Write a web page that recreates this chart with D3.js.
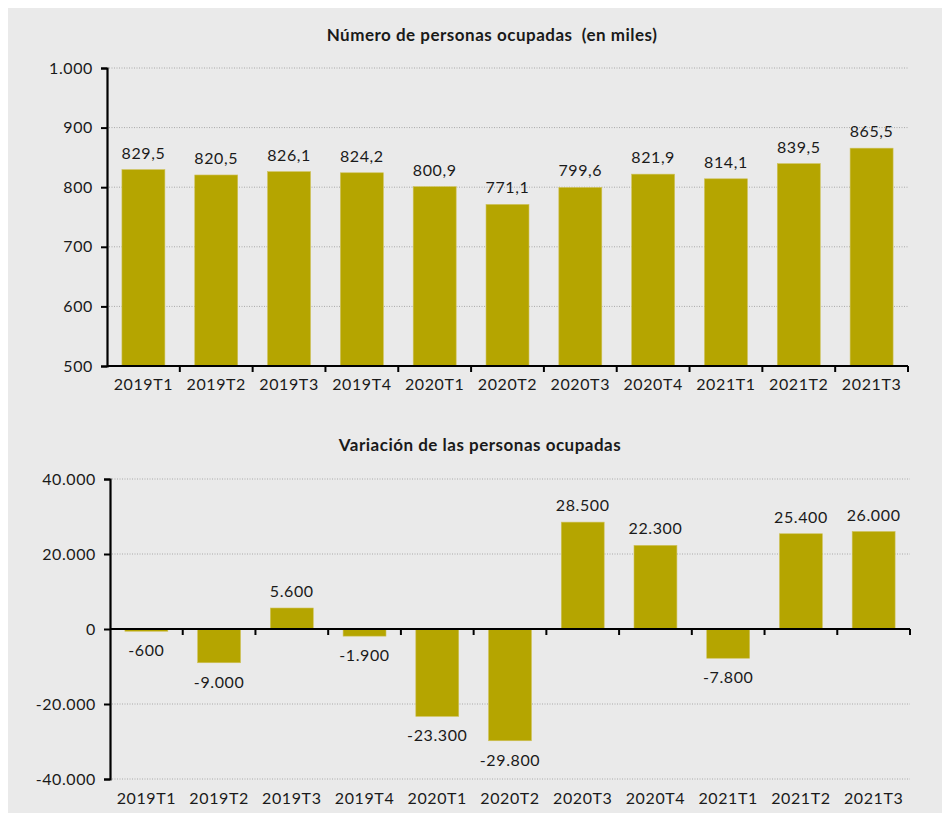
<!DOCTYPE html>
<html>
<head>
<meta charset="utf-8">
<script src="https://cdn.jsdelivr.net/npm/d3@7"></script>
<style>
    body { margin: 0; background: #fff; }
    svg text { font-family: Lato, "Open Sans", sans-serif; fill: #1a1a1a; }
</style>
</head>
<body>
<div class="chart-container"></div>
<script>
const quarters = ['2019T1', '2019T2', '2019T3', '2019T4', '2020T1', '2020T2', '2020T3', '2020T4', '2021T1', '2021T2', '2021T3'];
const ocupados = [829.5, 820.5, 826.1, 824.2, 800.9, 771.1, 799.6, 821.9, 814.1, 839.5, 865.5];
const variacion = [-600, -9000, 5600, -1900, -23300, -29800, 28500, 22300, -7800, 25400, 26000];
const topTicks = [500, 600, 700, 800, 900, 1000];
const bottomTicks = [-40000, -20000, 0, 20000, 40000];

const width = 942;
const height = 813;
const barColor = '#b5a500';

const es = d3.formatLocale({ decimal: ',', thousands: '.', grouping: [3], currency: ['', '€'], minus: '-' });
const fmtInt = es.format(',d');
const fmtDec = es.format(',.1f');

const svg = d3.select('.chart-container').append('svg')
    .attr('width', width)
    .attr('height', height);

svg.append('rect')
    .attr('x', 8).attr('y', 8)
    .attr('width', width - 8).attr('height', height - 8)
    .attr('fill', '#eaeaea');

function styleText(sel) {
    sel.style('font-size', '16px')
        .style('letter-spacing', '0.6px')
        .style('font-family', 'Lato, sans-serif')
        .attr('fill', '#1a1a1a');
}

function drawChart(opts) {
    const x = d3.scaleBand()
        .domain(quarters)
        .range([opts.left, opts.right]);
    const y = d3.scaleLinear()
        .domain(opts.domain)
        .range([opts.bottom, opts.top]);
    const barW = x.bandwidth() * 0.59;
    const g = svg.append('g');

    // title
    g.append('text')
        .attr('x', opts.titleX)
        .attr('y', opts.titleY)
        .attr('text-anchor', 'middle')
        .style('font-size', '17px')
        .style('letter-spacing', '0.5px')
        .style('font-weight', 'bold')
        .style('white-space', 'pre')
        .text(opts.title);

    // grid
    g.selectAll('.grid')
        .data(opts.ticks.filter(t => t !== opts.baseline))
        .enter()
        .append('line')
        .attr('x1', opts.left + 2)
        .attr('x2', opts.right)
        .attr('y1', d => y(d))
        .attr('y2', d => y(d))
        .attr('stroke', '#a8a8a8')
        .attr('stroke-width', 1)
        .attr('stroke-dasharray', '1,1.5');

    // bars
    g.selectAll('.bar')
        .data(opts.values)
        .enter()
        .append('rect')
        .attr('x', (d, i) => x(quarters[i]) + (x.bandwidth() - barW) / 2)
        .attr('y', d => Math.min(y(d), y(opts.baseline)))
        .attr('width', barW)
        .attr('height', d => Math.abs(y(d) - y(opts.baseline)))
        .attr('fill', barColor)
        .attr('stroke', '#cfc25a')
        .attr('stroke-width', 0.6);

    // value labels
    g.selectAll('.val')
        .data(opts.values)
        .enter()
        .append('text')
        .attr('x', (d, i) => x(quarters[i]) + x.bandwidth() / 2)
        .attr('y', d => d >= opts.baseline ? y(d) - 11 : y(d) + 25)
        .attr('text-anchor', 'middle')
        .call(styleText)
        .text(d => opts.format(d));

    // y axis
    const yAxis = g.append('g')
        .attr('transform', `translate(${opts.left},0)`)
        .call(d3.axisLeft(y).tickValues(opts.ticks).tickSize(6).tickPadding(8).tickFormat(fmtInt));
    yAxis.select('.domain').attr('stroke', '#000').attr('stroke-width', 2.2);
    yAxis.selectAll('.tick line').attr('stroke', '#000').attr('stroke-width', 2);
    yAxis.selectAll('text').call(styleText);

    // x axis line with boundary ticks
    const axisY = y(opts.baseline);
    g.append('line')
        .attr('x1', opts.left)
        .attr('x2', opts.right)
        .attr('y1', axisY)
        .attr('y2', axisY)
        .attr('stroke', '#000')
        .attr('stroke-width', 2.2);
    const bounds = quarters.slice(1).map(q => x(q)).concat([opts.right]);
    g.selectAll('.xtick')
        .data(bounds)
        .enter()
        .append('line')
        .attr('x1', d => d).attr('x2', d => d)
        .attr('y1', axisY).attr('y2', axisY + 6)
        .attr('stroke', '#000')
        .attr('stroke-width', 2);

    // category labels
    const xAxis = g.append('g')
        .attr('transform', `translate(0,${opts.labelY})`)
        .call(d3.axisBottom(x).tickSize(0).tickPadding(0));
    xAxis.select('.domain').remove();
    xAxis.selectAll('text').call(styleText);
}

drawChart({
    title: 'Número de personas ocupadas  (en miles)',
    titleX: 492, titleY: 41,
    values: ocupados,
    domain: [500, 1000],
    ticks: topTicks,
    baseline: 500,
    left: 107, right: 908,
    top: 68, bottom: 366,
    labelY: 379,
    format: fmtDec
});

drawChart({
    title: 'Variación de las personas ocupadas',
    titleX: 480, titleY: 451,
    values: variacion,
    domain: [-40000, 40000],
    ticks: bottomTicks,
    baseline: 0,
    left: 110, right: 910,
    top: 479, bottom: 779,
    labelY: 793,
    format: fmtInt
});
</script>
</body>
</html>
